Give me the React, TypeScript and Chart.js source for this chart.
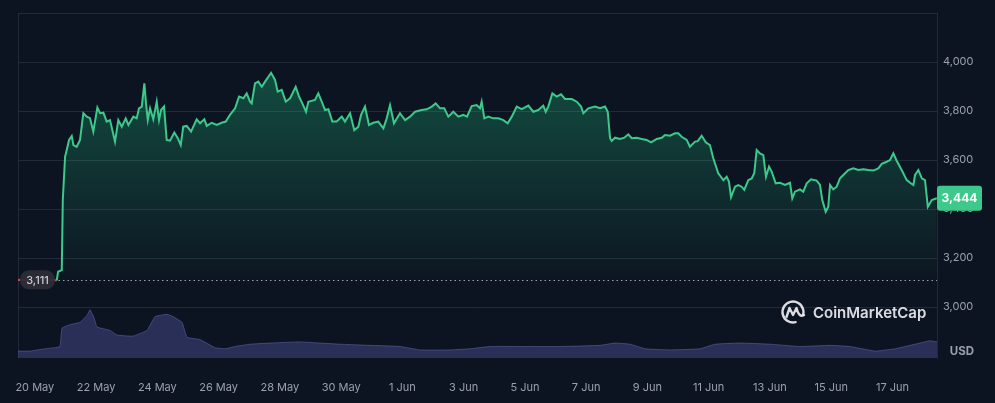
import React, { useEffect, useRef } from 'react';
import { Chart, registerables } from 'chart.js';

Chart.register(...registerables);

// Hours since 20 May 00:00
const priceHours = [
  -13.2, -3.8, 8.0, 15.8, 17.2, 18.2, 21.1, 21.9, 23.7, 25.0, 26.8, 28.9, 30.2, 32.8, 35.4, 38.0, 40.7, 43.2, 45.8, 49.0,
  51.1, 53.7, 56.3, 58.9, 62.8, 65.4, 68.1, 71.2, 73.3, 77.2, 79.8, 81.6, 83.8, 85.8, 87.1, 88.5, 90.3, 92.8, 95.5, 97.3,
  98.9, 101.2, 103.3, 105.9, 109.3, 112.0, 114.3, 116.3, 119.0, 122.4, 126.8, 129.4, 132.8, 134.7, 138.6, 142.5, 146.4, 149.6, 152.9, 156.9,
  160.0, 163.4, 166.0, 168.6, 169.9, 172.5, 175.1, 177.8, 180.4, 185.1, 188.2, 190.3, 193.4, 196.6, 200.0, 204.4, 207.0, 209.6, 212.5, 214.3,
  219.5, 222.1, 224.8, 227.4, 230.0, 233.1, 236.5, 240.5, 243.0, 247.0, 250.3, 253.5, 255.6, 258.7, 261.8, 265.2, 269.1, 273.1, 275.7, 278.3,
  281.4, 286.1, 290.1, 294.0, 297.9, 303.1, 307.1, 311.0, 314.1, 317.5, 320.8, 324.0, 327.9, 331.8, 335.7, 338.6, 342.3, 346.2, 348.8, 350.1,
  352.2, 355.3, 359.2, 363.2, 367.1, 370.5, 373.7, 377.6, 381.5, 386.7, 390.6, 394.5, 398.4, 400.3, 402.3, 405.5, 408.9, 412.3, 415.4, 420.7,
  424.6, 428.0, 429.8, 433.7, 439.0, 442.9, 446.8, 448.9, 450.7, 452.0, 454.6, 458.5, 461.9, 465.0, 467.7, 471.6, 475.5, 479.4, 482.8, 487.3,
  491.2, 493.8, 497.7, 501.6, 504.2, 506.8, 510.8, 513.3, 517.3, 519.4, 522.5, 525.7, 529.0, 531.6, 535.5, 539.5, 542.1, 543.9, 545.5, 548.6,
  551.2, 553.8, 555.9, 559.0, 561.7, 563.7, 565.6, 568.2, 570.8, 572.9, 575.3, 577.4, 580.5, 583.9, 587.8, 591.7, 593.5, 595.6, 599.5, 602.1,
  604.8, 608.2, 612.6, 615.2, 617.0, 619.7, 621.7, 623.1, 625.6, 628.3, 630.9, 633.5, 637.4, 641.3, 645.2, 649.2, 653.1, 657.0, 660.9, 663.6,
  667.5, 670.1, 672.7, 675.3, 679.2, 683.2, 685.8, 688.4, 689.7, 692.3, 695.0, 697.5, 699.7, 702.8, 706.7,
];

const priceValues = [
  3111, 3108, 3110, 3109, 3109, 3144, 3151, 3437, 3614, 3641, 3682, 3698, 3661, 3654, 3682, 3791, 3777, 3771, 3716, 3814,
  3791, 3793, 3757, 3763, 3675, 3763, 3736, 3770, 3743, 3777, 3770, 3811, 3818, 3913, 3831, 3763, 3811, 3766, 3838, 3763,
  3804, 3818, 3682, 3679, 3712, 3689, 3661, 3736, 3739, 3716, 3766, 3750, 3766, 3739, 3752, 3743, 3752, 3757, 3784, 3811,
  3859, 3852, 3872, 3838, 3831, 3913, 3920, 3899, 3920, 3956, 3927, 3879, 3886, 3838, 3852, 3899, 3859, 3831, 3797, 3838,
  3845, 3872, 3838, 3804, 3807, 3757, 3757, 3777, 3757, 3791, 3722, 3736, 3784, 3818, 3743, 3752, 3757, 3729, 3770, 3824,
  3750, 3791, 3763, 3777, 3797, 3804, 3807, 3818, 3831, 3811, 3811, 3777, 3797, 3777, 3784, 3777, 3820, 3824, 3811, 3838,
  3770, 3777, 3770, 3770, 3763, 3750, 3777, 3818, 3808, 3822, 3797, 3804, 3822, 3797, 3818, 3872, 3859, 3868, 3849, 3849,
  3838, 3818, 3791, 3811, 3818, 3811, 3818, 3797, 3689, 3678, 3691, 3686, 3691, 3705, 3689, 3691, 3686, 3682, 3672, 3686,
  3691, 3702, 3699, 3709, 3709, 3695, 3682, 3654, 3675, 3677, 3699, 3672, 3661, 3607, 3546, 3518, 3532, 3511, 3448, 3491,
  3498, 3491, 3478, 3518, 3525, 3546, 3641, 3627, 3620, 3532, 3573, 3552, 3505, 3507, 3498, 3507, 3443, 3471, 3480, 3471,
  3505, 3521, 3516, 3498, 3437, 3389, 3409, 3498, 3480, 3491, 3525, 3539, 3559, 3566, 3559, 3562, 3559, 3557, 3566, 3584,
  3593, 3600, 3627, 3597, 3559, 3518, 3507, 3498, 3539, 3559, 3525, 3518, 3409, 3437, 3444,
];

const volumeHours = [
  -13.2, -3.8, 8.0, 15.8, 19.7, 21.3, 27.6, 35.4, 40.9, 43.2, 46.4, 48.7, 58.9, 64.4, 76.9, 87.9, 94.2, 103.6, 108.3, 115.3,
  119.3, 129.4, 141.2, 149.0, 156.9, 168.6, 184.3, 207.8, 223.5, 239.1, 262.6, 286.1, 301.8, 325.3, 341.0, 356.6, 380.1, 411.5, 442.8, 454.6,
  466.4, 478.1, 497.7, 521.2, 533.0, 552.6, 576.1, 599.6, 623.1, 638.8, 658.3, 674.0, 689.7, 701.4, 706.9,
];

// Volume, billions USD
const volumeValues = [
  6, 6, 8, 9, 10, 26, 29, 31, 37, 42, 35, 27, 24, 20, 19, 24, 36, 38, 36, 31,
  18, 16, 9, 8, 10, 12, 13, 14, 13, 12, 11, 10, 7, 7, 8, 10, 10, 10, 11, 13,
  12, 8, 7, 8, 12, 13, 12, 10, 11, 10, 6, 8, 12, 15, 14,
];

const yTickValues = [3000, 3200, 3400, 3600, 3800, 4000, 4200];
const xTickHours = [0, 48, 96, 144, 192, 240, 288, 336, 384, 432, 480, 528, 576, 624, 672];
const xTickLabels = ['20 May', '22 May', '24 May', '26 May', '28 May', '30 May', '1 Jun', '3 Jun', '5 Jun', '7 Jun', '9 Jun', '11 Jun', '13 Jun', '15 Jun', '17 Jun'];
const openPrice = 3111;
const lastPrice = 3444;
const xRange = [-13.2, 706.9];
const yRange = [2792, 4200];
const volumeMax = 300;

const BG = '#0d1421';
const GREEN = '#3cc98b';
const RED = '#ea3943';
const GRID = '#222a37';
const TEXT = '#9aa0ae';
const FONT = "Inter, 'Noto Sans', sans-serif";

function roundRect(ctx: CanvasRenderingContext2D, x: number, y: number, w: number, h: number, r: number) {
  ctx.beginPath();
  ctx.moveTo(x + r, y);
  ctx.lineTo(x + w - r, y);
  ctx.arcTo(x + w, y, x + w, y + r, r);
  ctx.lineTo(x + w, y + h - r);
  ctx.arcTo(x + w, y + h, x + w - r, y + h, r);
  ctx.lineTo(x + r, y + h);
  ctx.arcTo(x, y + h, x, y + h - r, r);
  ctx.lineTo(x, y + r);
  ctx.arcTo(x, y, x + r, y, r);
  ctx.closePath();
}

const overlayPlugin = {
  id: 'cmcOverlay',
  beforeDatasetsDraw(chart: any) {
    const { ctx, chartArea: a, scales } = chart;
    const y = Math.round(scales.y.getPixelForValue(openPrice)) + 0.5;
    ctx.save();
    ctx.strokeStyle = GRID;
    ctx.lineWidth = 1;
    ctx.beginPath();
    ctx.moveTo(a.left + 0.5, a.top);
    ctx.lineTo(a.left + 0.5, a.bottom);
    ctx.stroke();
    ctx.setLineDash([1.5, 3]);
    ctx.strokeStyle = 'rgba(255,255,255,0.6)';
    ctx.beginPath();
    ctx.moveTo(a.left, y);
    ctx.lineTo(a.right, y);
    ctx.stroke();
    ctx.restore();
  },
  afterDatasetsDraw(chart: any) {
    const { ctx, chartArea: a } = chart;
    ctx.save();
    const cx = a.right - 144;
    const cy = a.bottom - 46;
    ctx.strokeStyle = 'rgba(236,238,243,0.92)';
    ctx.lineWidth = 2.4;
    ctx.lineCap = 'round';
    ctx.lineJoin = 'round';
    ctx.beginPath();
    ctx.arc(cx, cy, 10.5, Math.PI * 0.42, Math.PI * 2.08);
    ctx.stroke();
    ctx.beginPath();
    ctx.moveTo(cx - 6.5, cy + 5);
    ctx.lineTo(cx - 3.5, cy - 4);
    ctx.lineTo(cx, cy + 3);
    ctx.lineTo(cx + 3.5, cy - 4);
    ctx.quadraticCurveTo(cx + 6, cy + 6, cx + 11, cy + 3);
    ctx.stroke();
    ctx.fillStyle = 'rgba(236,238,243,0.92)';
    ctx.font = `600 15px ${FONT}`;
    ctx.textBaseline = 'middle';
    ctx.textAlign = 'left';
    ctx.fillText('CoinMarketCap', cx + 20, cy + 1);
    ctx.restore();
  },
  afterDraw(chart: any) {
    const { ctx, chartArea: a, scales } = chart;
    ctx.save();
    // opening price badge
    const oy = scales.y.getPixelForValue(openPrice);
    roundRect(ctx, a.left + 2, oy - 9.5, 35, 19, 9);
    ctx.fillStyle = 'rgba(44,44,54,0.95)';
    ctx.fill();
    ctx.fillStyle = '#c9cbd2';
    ctx.font = `500 11px ${FONT}`;
    ctx.textAlign = 'center';
    ctx.textBaseline = 'middle';
    ctx.fillText(openPrice.toLocaleString('en-US'), a.left + 19.5, oy + 0.5);
    // last price tag
    const ly = scales.y.getPixelForValue(lastPrice);
    roundRect(ctx, a.right, ly - 12.5, 45, 25, 3);
    ctx.fillStyle = GREEN;
    ctx.fill();
    ctx.fillStyle = '#ffffff';
    ctx.font = `700 12px ${FONT}`;
    ctx.fillText(lastPrice.toLocaleString('en-US'), a.right + 22.5, ly + 0.5);
    // currency label
    ctx.fillStyle = TEXT;
    ctx.font = `700 11.5px ${FONT}`;
    ctx.fillText('USD', a.right + 25, a.bottom - 6);
    ctx.restore();
  },
};

export default function App() {
  const canvasRef = useRef<HTMLCanvasElement | null>(null);

  useEffect(() => {
    document.body.style.margin = '0';
    document.body.style.background = BG;
    const canvas = canvasRef.current;
    if (!canvas) return;

    const chart = new Chart(canvas, {
      type: 'line',
      data: {
        datasets: [
          {
            label: 'Price',
            data: priceHours.map((h, i) => ({ x: h, y: priceValues[i] })),
            yAxisID: 'y',
            borderColor: GREEN,
            borderWidth: 2,
            pointRadius: 0,
            tension: 0,
            fill: 'start',
            backgroundColor: (c: any) => {
              const { chart: ch } = c;
              const area = ch.chartArea;
              if (!area) return 'rgba(0,0,0,0)';
              const y0 = ch.scales.y.getPixelForValue(openPrice);
              const g = ch.ctx.createLinearGradient(0, area.top, 0, y0 + 10);
              g.addColorStop(0, 'rgba(34,199,132,0.40)');
              g.addColorStop(0.45, 'rgba(34,199,132,0.22)');
              g.addColorStop(1, 'rgba(34,199,132,0.0)');
              return g;
            },
            segment: {
              borderColor: (s: any) =>
                s.p0.parsed.y < openPrice + 9 && s.p1.parsed.y < openPrice + 9 ? RED : GREEN,
            },
            order: 0,
          },
          {
            label: 'Volume',
            data: volumeHours.map((h, i) => ({ x: h, y: volumeValues[i] })),
            yAxisID: 'y2',
            borderColor: 'rgba(110,115,200,0.45)',
            borderWidth: 1,
            backgroundColor: 'rgba(92,96,180,0.36)',
            pointRadius: 0,
            tension: 0.1,
            fill: 'origin',
            order: 1,
          },
        ],
      },
      options: {
        animation: false,
        responsive: true,
        maintainAspectRatio: false,
        layout: { padding: { left: 18, top: 13, right: 0, bottom: 0 } },
        plugins: {
          legend: { display: false },
          tooltip: { enabled: false },
        },
        scales: {
          x: {
            type: 'linear',
            min: xRange[0],
            max: xRange[1],
            grid: { display: false },
            border: { display: false },
            afterBuildTicks: (s: any) => {
              s.ticks = xTickHours.map((v) => ({ value: v }));
            },
            afterFit: (s: any) => {
              s.height = 45;
            },
            ticks: {
              color: TEXT,
              font: { family: FONT, size: 11 },
              padding: 15,
              maxRotation: 0,
              autoSkip: false,
              callback: (v: any) => {
                const i = xTickHours.indexOf(Number(v));
                return i >= 0 ? xTickLabels[i] : '';
              },
            },
          },
          y: {
            position: 'right',
            min: yRange[0],
            max: yRange[1],
            afterBuildTicks: (s: any) => {
              s.ticks = yTickValues.map((v) => ({ value: v }));
            },
            afterFit: (s: any) => {
              s.width = 58;
            },
            grid: { color: GRID, drawTicks: false },
            border: { display: true, color: GRID },
            ticks: {
              color: TEXT,
              font: { family: FONT, size: 11 },
              padding: 6,
              callback: (v: any) => (Number(v) === 4200 ? '' : Number(v).toLocaleString('en-US')),
            },
          },
          y2: {
            display: false,
            min: 0,
            max: volumeMax,
          },
        },
      },
      plugins: [overlayPlugin],
    } as any);

    return () => {
      chart.destroy();
    };
  }, []);

  return (
    <div
      style={{
        position: 'fixed',
        left: 0,
        top: 0,
        width: 995,
        height: 403,
        background: BG,
      }}
    >
      <canvas ref={canvasRef} />
    </div>
  );
}
